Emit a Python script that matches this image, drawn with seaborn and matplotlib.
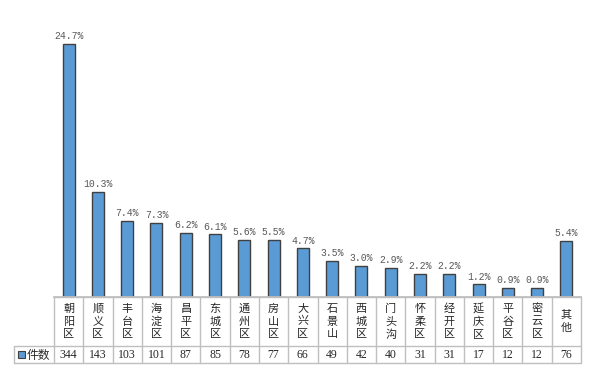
import matplotlib
matplotlib.use("Agg")
import matplotlib.pyplot as plt
import seaborn as sns
import pandas as pd

# 数据
districts = ["朝阳区", "顺义区", "丰台区", "海淀区", "昌平区", "东城区", "通州区", "房山区", "大兴区",
             "石景山", "西城区", "门头沟", "怀柔区", "经开区", "延庆区", "平谷区", "密云区", "其他"]
counts = [344, 143, 103, 101, 87, 85, 78, 77, 66, 49, 42, 40, 31, 31, 17, 12, 12, 76]
pct_labels = ["24.7%", "10.3%", "7.4%", "7.3%", "6.2%", "6.1%", "5.6%", "5.5%", "4.7%",
              "3.5%", "3.0%", "2.9%", "2.2%", "2.2%", "1.2%", "0.9%", "0.9%", "5.4%"]
series_name = "件数"

df = pd.DataFrame({"区": districts, "件数": counts})

sns.set_theme(style="white")
plt.rcParams["font.family"] = ["Liberation Serif", "Noto Sans CJK SC", "DejaVu Sans"]

W, H = 599, 384
fig = plt.figure(figsize=(W / 100, H / 100), dpi=100)

x0, x1 = 54, 581
base_y, top_y = 297, 20
ax = fig.add_axes([x0 / W, (H - base_y) / H, (x1 - x0) / W, (base_y - top_y) / H])

bar_color = "#5B9BD5"
sns.barplot(data=df, x="区", y="件数", ax=ax, color=bar_color, width=0.41,
            edgecolor="#404040", linewidth=1.0, saturation=1)
n = len(districts)
ax.set_xlim(-0.5, n - 0.5)
ax.set_ylim(0, 376)
ax.set_xticks([])
ax.set_yticks([])
ax.set_xlabel("")
ax.set_ylabel("")
for s in ["top", "right", "left"]:
    ax.spines[s].set_visible(False)
ax.spines["bottom"].set_color("#BFBFBF")

for i, (v, lab) in enumerate(zip(counts, pct_labels)):
    ax.annotate(lab, (i, v), xytext=(0, 2), textcoords="offset points",
                ha="center", va="bottom", fontsize=7, color="#595959",
                family=["Liberation Mono"])

# 数据表
hdr_bot, val_bot = 346, 363
tab = fig.add_axes([0, 0, 1, 1])
tab.set_xlim(0, W)
tab.set_ylim(H, 0)
tab.axis("off")
grid = "#BFBFBF"
step = (x1 - x0) / n
for k in range(n + 1):
    xx = x0 + k * step
    tab.plot([xx, xx], [base_y, val_bot], color=grid, lw=1)
tab.plot([14, 14], [hdr_bot, val_bot], color=grid, lw=1)
tab.plot([x0, x1], [base_y, base_y], color=grid, lw=1)
tab.plot([14, x1], [hdr_bot, hdr_bot], color=grid, lw=1)
tab.plot([14, x1], [val_bot, val_bot], color=grid, lw=1)

for i, (name, v) in enumerate(zip(districts, counts)):
    cx = x0 + (i + 0.5) * step
    tab.text(cx, (base_y + hdr_bot) / 2, "\n".join(name), ha="center", va="center",
             fontsize=8, linespacing=1.3, color="#262626", family=["Noto Sans CJK SC"])
    tab.text(cx, (hdr_bot + val_bot) / 2 + 0.5, str(v), ha="center", va="center",
             fontsize=8.5, color="#262626")

# 图例
tab.add_patch(plt.Rectangle((18, 351), 7, 7, facecolor=bar_color, edgecolor="#404040", lw=0.8))
tab.text(27, (hdr_bot + val_bot) / 2 + 0.5, series_name, ha="left", va="center",
         fontsize=8.5, color="#262626", family=["Noto Sans CJK SC"])

fig.savefig("out.png", dpi=100)
